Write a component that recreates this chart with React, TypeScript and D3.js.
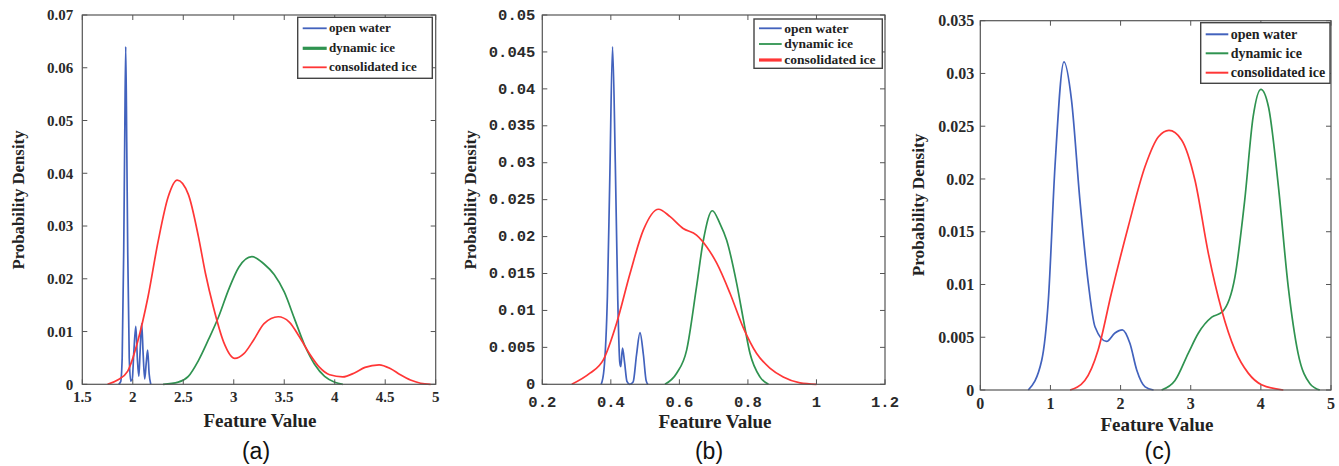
import React from "react";
import * as d3 from "d3";

// ---------- Panel (a) data ----------
const aOpenWater: [number, number][] = [
  [1.86, 0], [1.88, 0.0005], [1.895, 0.005], [1.91, 0.025], [1.92, 0.046], [1.93, 0.064],
  [1.94, 0.046], [1.95, 0.025], [1.965, 0.005], [1.98, 0.0006], [1.995, 0.001], [2.01, 0.006],
  [2.03, 0.011], [2.045, 0.005], [2.06, 0.0015], [2.072, 0.006], [2.088, 0.0115], [2.102, 0.006],
  [2.118, 0.001], [2.133, 0.004], [2.147, 0.0065], [2.162, 0.002], [2.178, 0]
];
const aDynamicIce: [number, number][] = [
  [2.3, 0], [2.45, 0.0004], [2.55, 0.0015], [2.65, 0.0045], [2.75, 0.0085], [2.85, 0.0128],
  [2.95, 0.018], [3.05, 0.0222], [3.18, 0.0242], [3.3, 0.0228], [3.4, 0.0208], [3.5, 0.0175],
  [3.6, 0.0125], [3.7, 0.0075], [3.8, 0.0038], [3.9, 0.0015], [4.0, 0.0004], [4.08, 0]
];
const aConsolidatedIce: [number, number][] = [
  [1.75, 0], [1.85, 0.0008], [1.95, 0.0025], [2.05, 0.0082], [2.15, 0.0165], [2.25, 0.027],
  [2.35, 0.0355], [2.44, 0.0387], [2.55, 0.036], [2.65, 0.028], [2.72, 0.021], [2.8, 0.0145],
  [2.9, 0.008], [3.01, 0.0049], [3.1, 0.0058], [3.2, 0.0085], [3.3, 0.0115], [3.44, 0.0128],
  [3.55, 0.0118], [3.65, 0.009], [3.75, 0.0058], [3.85, 0.0032], [3.95, 0.0018], [4.08, 0.0014],
  [4.2, 0.0022], [4.3, 0.0032], [4.44, 0.0037], [4.55, 0.003], [4.65, 0.0018], [4.75, 0.0008],
  [4.85, 0.0002], [4.95, 0]
];

// ---------- Panel (b) data ----------
const bOpenWater: [number, number][] = [
  [0.372, 0], [0.38, 0.002], [0.39, 0.012], [0.397, 0.028], [0.405, 0.0457], [0.413, 0.03],
  [0.42, 0.012], [0.426, 0.003], [0.429, 0.0024], [0.434, 0.0049], [0.44, 0.003], [0.447, 0.0004],
  [0.455, 0], [0.465, 0.0003], [0.475, 0.004], [0.485, 0.007], [0.495, 0.004], [0.503, 0.0005],
  [0.508, 0]
];
const bDynamicIce: [number, number][] = [
  [0.558, 0], [0.592, 0.0015], [0.621, 0.0046], [0.65, 0.0132], [0.67, 0.0195], [0.696, 0.0235],
  [0.718, 0.0218], [0.738, 0.0195], [0.767, 0.0137], [0.787, 0.0087], [0.806, 0.0042],
  [0.835, 0.001], [0.86, 0]
];
const bConsolidatedIce: [number, number][] = [
  [0.286, 0], [0.339, 0.0015], [0.378, 0.0033], [0.417, 0.0083], [0.456, 0.015], [0.495, 0.0209],
  [0.539, 0.0237], [0.573, 0.0227], [0.611, 0.0211], [0.65, 0.0202], [0.68, 0.0186],
  [0.709, 0.0164], [0.748, 0.0123], [0.787, 0.0076], [0.825, 0.0042], [0.864, 0.0022],
  [0.903, 0.001], [0.952, 0.0002], [1.0, 0]
];

// ---------- Panel (c) data ----------
const cOpenWater: [number, number][] = [
  [0.684, 0], [0.875, 0.0028], [0.97, 0.0085], [1.065, 0.0212], [1.193, 0.0311], [1.3, 0.0275],
  [1.42, 0.018], [1.54, 0.0101], [1.635, 0.006], [1.8, 0.0046], [1.92, 0.0054], [2.025, 0.0057],
  [2.134, 0.0044], [2.23, 0.0019], [2.35, 0.0003], [2.47, 0]
];
const cDynamicIce: [number, number][] = [
  [2.585, 0], [2.776, 0.0009], [2.966, 0.0035], [3.11, 0.0054], [3.3, 0.0069], [3.45, 0.0074],
  [3.63, 0.0107], [3.77, 0.018], [3.89, 0.0259], [4.0, 0.0285], [4.11, 0.0268], [4.25, 0.0193],
  [4.39, 0.0098], [4.53, 0.0035], [4.7, 0.0006], [4.84, 0]
];
const cConsolidatedIce: [number, number][] = [
  [1.28, 0], [1.49, 0.0009], [1.68, 0.0038], [1.87, 0.0092], [2.11, 0.0155], [2.35, 0.0212],
  [2.54, 0.024], [2.69, 0.0246], [2.87, 0.0237], [3.06, 0.0199], [3.25, 0.013], [3.44, 0.0076],
  [3.63, 0.0038], [3.82, 0.0016], [4.01, 0.0005], [4.32, 0]
];

// ---------- ticks ----------
const aXTicks = [1.5, 2, 2.5, 3, 3.5, 4, 4.5, 5];
const aXLabels = ["1.5", "2", "2.5", "3", "3.5", "4", "4.5", "5"];
const aYTicks = [0, 0.01, 0.02, 0.03, 0.04, 0.05, 0.06, 0.07];
const aYLabels = ["0", "0.01", "0.02", "0.03", "0.04", "0.05", "0.06", "0.07"];

const bXTicks = [0.2, 0.4, 0.6, 0.8, 1, 1.2];
const bXLabels = ["0.2", "0.4", "0.6", "0.8", "1", "1.2"];
const bYTicks = [0, 0.005, 0.01, 0.015, 0.02, 0.025, 0.03, 0.035, 0.04, 0.045, 0.05];
const bYLabels = ["0", "0.005", "0.01", "0.015", "0.02", "0.025", "0.03", "0.035", "0.04", "0.045", "0.05"];

const cXTicks = [0, 1, 2, 3, 4, 5];
const cXLabels = ["0", "1", "2", "3", "4", "5"];
const cYTicks = [0, 0.005, 0.01, 0.015, 0.02, 0.025, 0.03, 0.035];
const cYLabels = ["0", "0.005", "0.01", "0.015", "0.02", "0.025", "0.03", "0.035"];

const seriesNames = ["open water", "dynamic ice", "consolidated ice"];
const COLORS = ["#4262bd", "#2f9350", "#ff3636"];

const SERIF = "'Liberation Serif', 'Times New Roman', serif";
const MONO = "'Liberation Mono', 'Courier New', monospace";

type PanelProps = {
  left: number; right: number; top: number; bottom: number;
  xDomain: [number, number]; yDomain: [number, number];
  xTicks: number[]; xLabels: string[]; yTicks: number[]; yLabels: string[];
  series: [number, number][][];
  tickFont: string; tickSize: number; yLabelGap: number; xLabelBase: number; yLabelDy: string;
  yTitleX: number; yTitleY: number; yTitleSize: number;
  xTitleX: number; xTitleY: number;
  caption: string; captionX: number;
  legend: { x0: number; x1: number; y0: number; y1: number; rows: number[]; lx0: number; lx1: number; tx: number; size: number; widths: number[] };
};

function Panel(p: PanelProps) {
  const x = d3.scaleLinear().domain(p.xDomain).range([p.left, p.right]);
  const y = d3.scaleLinear().domain(p.yDomain).range([p.bottom, p.top]);
  const line = d3.line<[number, number]>().x(d => x(d[0])).y(d => y(d[1])).curve(d3.curveMonotoneX);
  const tl = 5;
  const L = p.legend;
  return (
    <g>
      {p.series.map((s, i) => (
        <path key={i} d={line(s) || ""} fill="none" stroke={COLORS[i]} strokeWidth={1.7} />
      ))}
      <rect x={p.left} y={p.top} width={p.right - p.left} height={p.bottom - p.top} fill="none" stroke="#555" strokeWidth={1.2} />
      {p.xTicks.map((t, i) => (
        <g key={"x" + i}>
          <line x1={x(t)} x2={x(t)} y1={p.bottom} y2={p.bottom - tl} stroke="#555" />
          <line x1={x(t)} x2={x(t)} y1={p.top} y2={p.top + tl} stroke="#555" />
          <text x={x(t)} y={p.xLabelBase} textAnchor="middle" fontFamily={p.tickFont} fontWeight="bold" fontSize={p.tickSize} fill="#2a2a2a">{p.xLabels[i]}</text>
        </g>
      ))}
      {p.yTicks.map((t, i) => (
        <g key={"y" + i}>
          <line x1={p.left} x2={p.left + tl} y1={y(t)} y2={y(t)} stroke="#555" />
          <line x1={p.right} x2={p.right - tl} y1={y(t)} y2={y(t)} stroke="#555" />
          <text x={p.left - p.yLabelGap} y={y(t)} dy={p.yLabelDy} textAnchor="end" fontFamily={p.tickFont} fontWeight="bold" fontSize={p.tickSize} fill="#2a2a2a">{p.yLabels[i]}</text>
        </g>
      ))}
      <text x={p.xTitleX} y={p.xTitleY} textAnchor="middle" fontFamily={SERIF} fontWeight="bold" fontSize={19} fill="#222">Feature Value</text>
      <text transform={`translate(${p.yTitleX},${p.yTitleY}) rotate(-90)`} textAnchor="middle" dy="0.35em" fontFamily={SERIF} fontWeight="bold" fontSize={p.yTitleSize} fill="#222">Probability Density</text>
      <text x={p.captionX} y={459} textAnchor="middle" fontFamily="'Liberation Sans', Arial, sans-serif" fontSize={23} fill="#111">{p.caption}</text>
      <rect x={L.x0} y={L.y0} width={L.x1 - L.x0} height={L.y1 - L.y0} fill="#fff" stroke="#444" strokeWidth={1.4} />
      {seriesNames.map((n, i) => (
        <g key={n}>
          <line x1={L.lx0} x2={L.lx1} y1={L.rows[i]} y2={L.rows[i]} stroke={COLORS[i]} strokeWidth={L.widths[i]} />
          <text x={L.tx} y={L.rows[i]} dy="0.32em" fontFamily={SERIF} fontWeight="bold" fontSize={L.size} fill="#222">{n}</text>
        </g>
      ))}
    </g>
  );
}

export default function App() {
  return (
    <svg width={1339} height={466} style={{ position: "absolute", left: 0, top: 0, background: "#fff" }}>
      <rect x={0} y={0} width={1339} height={466} fill="#fff" />
      <Panel
        left={82.3} right={435.7} top={15} bottom={384.3}
        xDomain={[1.5, 5]} yDomain={[0, 0.07]}
        xTicks={aXTicks} xLabels={aXLabels} yTicks={aYTicks} yLabels={aYLabels}
        series={[aOpenWater, aDynamicIce, aConsolidatedIce]}
        tickFont={SERIF} tickSize={15} yLabelGap={9} xLabelBase={402} yLabelDy="0.35em"
        yTitleX={18} yTitleY={200} yTitleSize={16.8}
        xTitleX={260} xTitleY={427}
        caption="(a)" captionX={256}
        legend={{ x0: 297.7, x1: 432.3, y0: 17.3, y1: 78.3, rows: [28.3, 48.3, 67.3], lx0: 302.7, lx1: 326.7, tx: 329, size: 13, widths: [1.8, 3.2, 1.8] }}
      />
      <Panel
        left={542.3} right={885} top={15} bottom={384.3}
        xDomain={[0.2, 1.2]} yDomain={[0, 0.05]}
        xTicks={bXTicks} xLabels={bXLabels} yTicks={bYTicks} yLabels={bYLabels}
        series={[bOpenWater, bDynamicIce, bConsolidatedIce]}
        tickFont={MONO} tickSize={15.5} yLabelGap={7} xLabelBase={406.5} yLabelDy="0.3em"
        yTitleX={470} yTitleY={200} yTitleSize={16.8}
        xTitleX={715} xTitleY={428}
        caption="(b)" captionX={709}
        legend={{ x0: 754, x1: 882.3, y0: 19, y1: 68.3, rows: [28.3, 44, 60], lx0: 759, lx1: 781.7, tx: 784.3, size: 13.5, widths: [1.8, 1.8, 3.2] }}
      />
      <Panel
        left={980.3} right={1331} top={20.7} bottom={390}
        xDomain={[0, 5]} yDomain={[0, 0.035]}
        xTicks={cXTicks} xLabels={cXLabels} yTicks={cYTicks} yLabels={cYLabels}
        series={[cOpenWater, cDynamicIce, cConsolidatedIce]}
        tickFont={SERIF} tickSize={16} yLabelGap={6} xLabelBase={409} yLabelDy="0.35em"
        yTitleX={918} yTitleY={205} yTitleSize={17.2}
        xTitleX={1157} xTitleY={431}
        caption="(c)" captionX={1158}
        legend={{ x0: 1200.7, x1: 1330, y0: 22.7, y1: 83.3, rows: [34.3, 53.3, 72.7], lx0: 1205.7, lx1: 1228.3, tx: 1230.7, size: 14, widths: [2, 2, 2] }}
      />
    </svg>
  );
}
